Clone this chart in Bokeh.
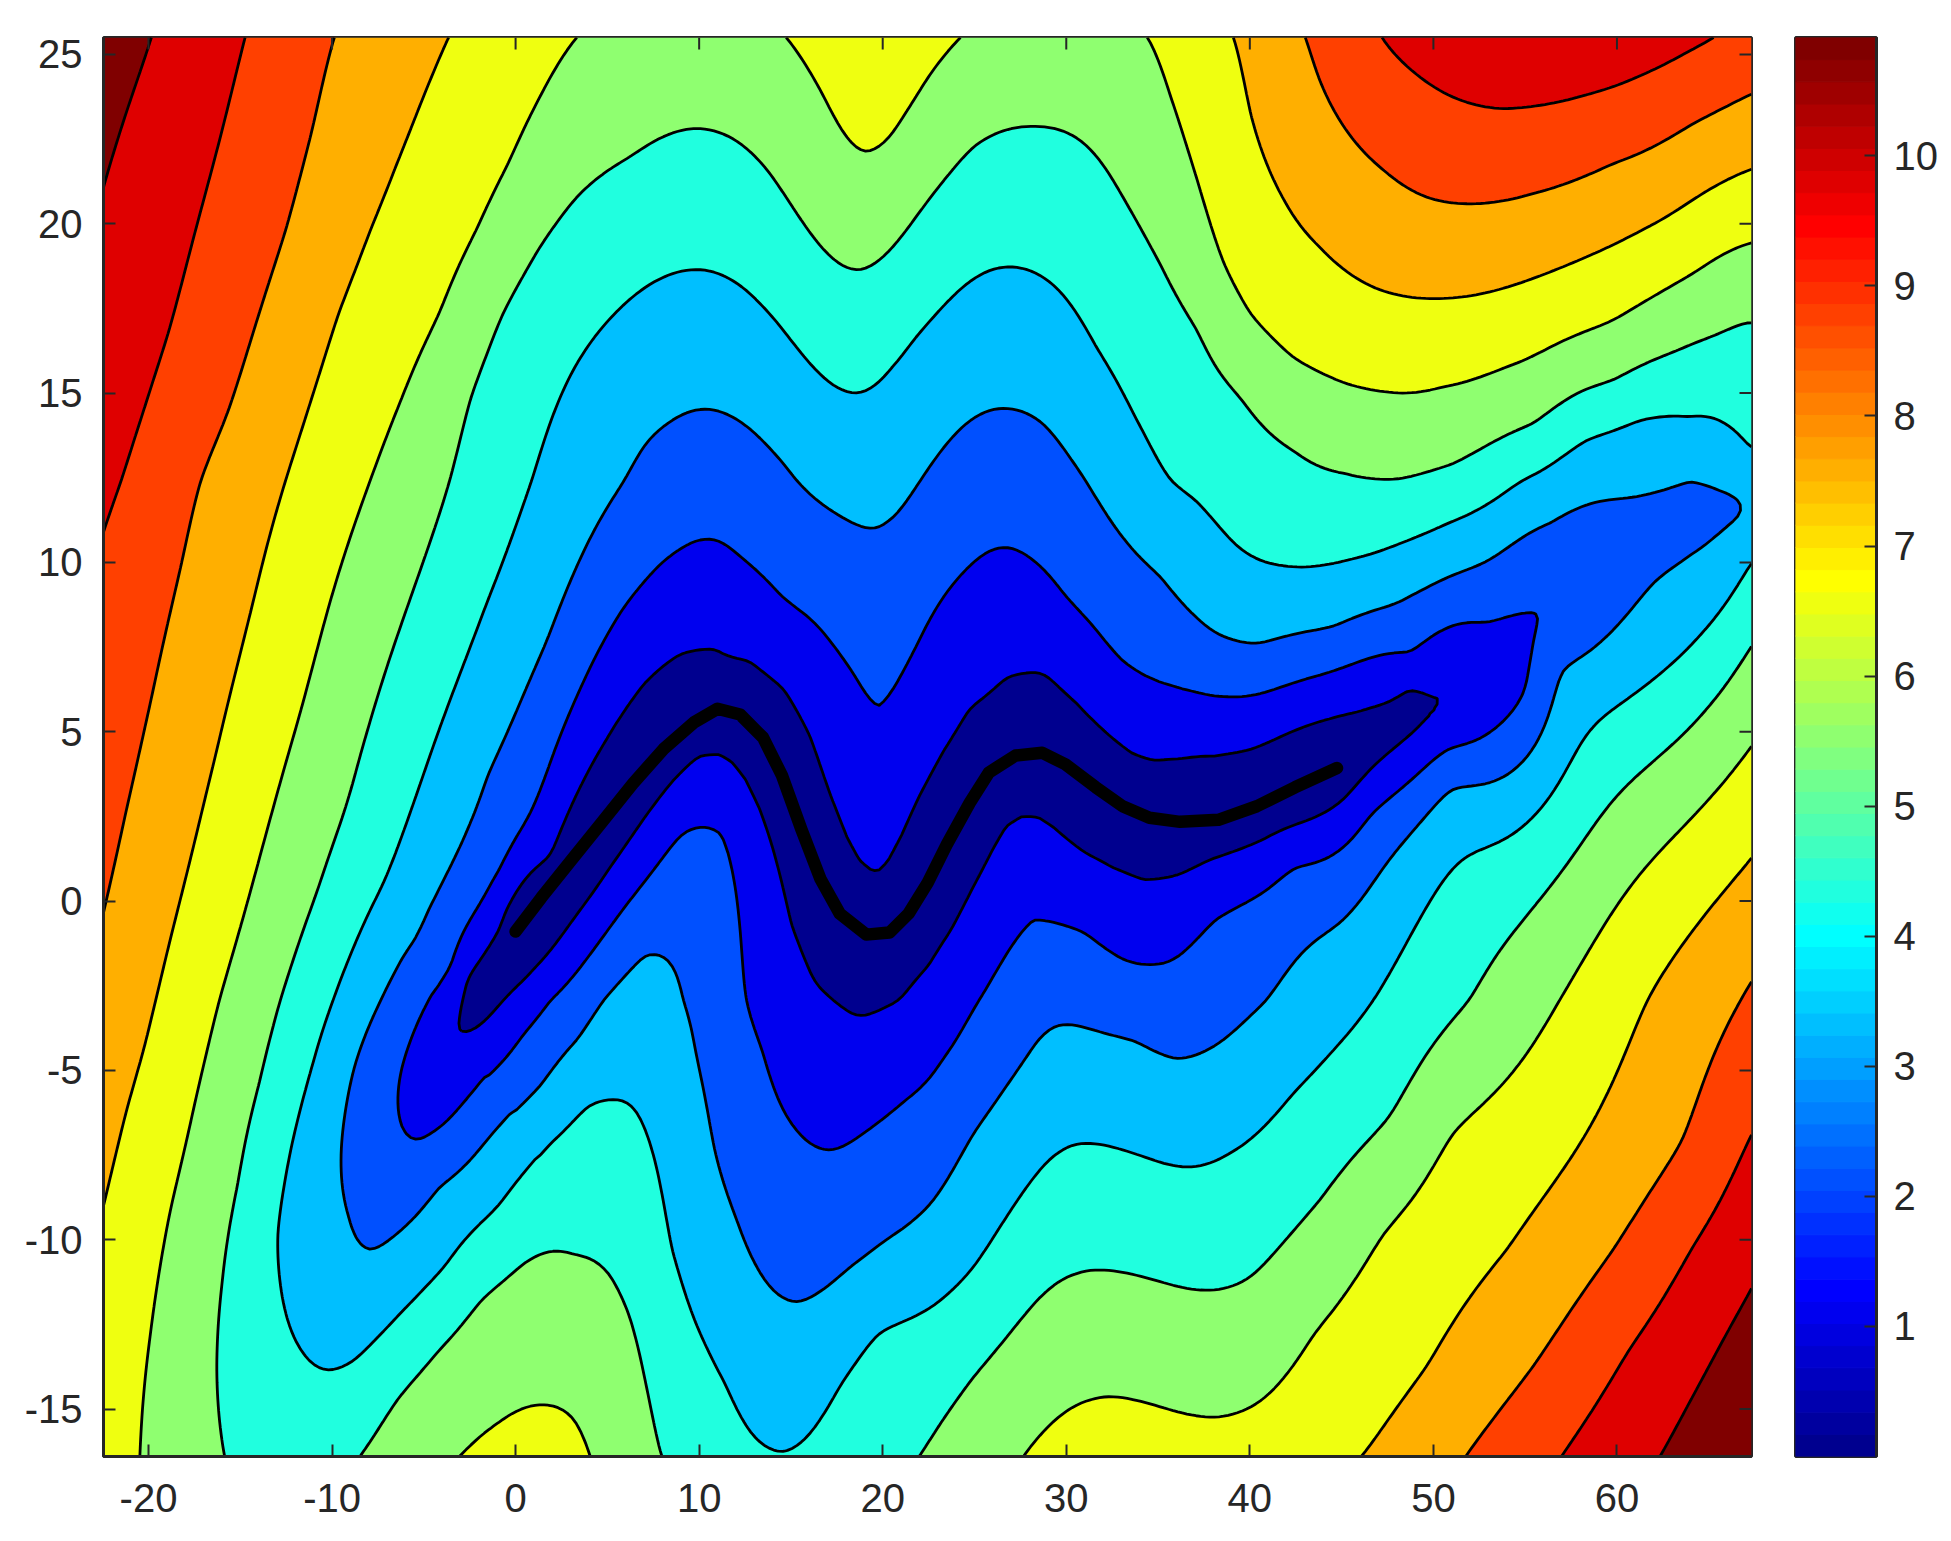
import numpy as np
from bokeh.plotting import figure
from bokeh.models import Range1d, FixedTicker
from bokeh.layouts import row
from bokeh.embed import file_html
from bokeh.resources import INLINE

# ---------------- values ----------------
x_ticks = [-20, -10, 0, 10, 20, 30, 40, 50, 60]
y_ticks = [-15, -10, -5, 0, 5, 10, 15, 20, 25]
cbar_ticks = [1, 2, 3, 4, 5, 6, 7, 8, 9, 10]
x_lim = (-22.45, 67.33)
y_lim = (-16.4, 25.5)
cbar_max = 10.91
levels = [0, 1, 2, 3, 4, 5, 6, 7, 8, 9, 10, 11]

# thick black path (valley floor)
curve_x = [0.0, 1.4, 3.05, 4.72, 6.39, 8.06, 9.73, 11.0, 12.23, 13.48, 14.52, 15.57, 16.61,
           17.66, 19.11, 20.37, 21.41, 22.45, 23.49, 24.74, 25.79, 27.24, 28.69, 29.95, 31.61,
           33.07, 34.53, 36.2, 38.29, 40.38, 42.46, 44.75]
curve_y = [-0.9, 0.1, 1.22, 2.34, 3.47, 4.49, 5.28, 5.68, 5.51, 4.83, 3.70, 2.12, 0.65,
           -0.37, -0.99, -0.93, -0.37, 0.54, 1.67, 2.9, 3.8, 4.3, 4.38, 4.04, 3.36,
           2.80, 2.46, 2.34, 2.40, 2.80, 3.36, 3.93]

# valley continuation beyond the path ends (tips of the closed contours)
start_ext_x = [0.0, -3.1, -5.32, -7.92, -10.22]
start_ext_y = [-0.9, -3.8, -7.06, -10.31, -13.85]
end_ext_x = [44.75, 51.2, 57.0, 67.0]
end_ext_y = [3.93, 6.0, 8.8, 11.6]

# points read on each contour line (level k)
lvl1_x = [11.4, 19.32, 28.49, 9.94, 19.74, 28.49, -3.1, 51.2, 48.7, 48.7, 46.63, 46.63, 38.29,
          34.12, 30.99, 5.14, 5.14, 1.89, -0.83, -2.65]
lvl1_y = [7.26, 0.93, 6.75, 4.27, -3.25, 2.46, -3.8, 6.0, 6.3, 4.9, 5.73, 3.93, 1.33,
          0.65, 1.44, 4.94, 0.99, 1.33, -0.81, -2.28]

lvl2_x = [10.98, 7.23, 14.5, 19.53, 27.03, 8.89, 17.19, 28.9, -5.32, 57.0, -6.18, -3.88, -1.86,
          0.45, 1.89, 12.57, 13.44, 14.59, 18.92, 21.22, 22.61, 25.24, 29.95, 33.07, 48.72,
          52.89, 54.97, 50.8, 46.63, 42.46, 38.29, 35.37, 33.07, 30.99, -0.93, -3.5, 1.64]
lvl2_y = [10.65, 9.57, 9.0, 5.85, 10.42, 1.89, -7.35, -0.59, -7.06, 8.8, -4.89, -6.57, -5.29,
          -3.91, -2.93, -2.93, -4.4, -6.17, -6.86, -5.88, -5.19, -2.93, 9.01, 7.09, 7.32,
          8.22, 6.19, 4.49, 2.57, 0.99, -0.48, -1.83, -1.72, -0.93, 0.88, -1.94, 3.71]

lvl3_x = [10.5, 5.93, 7.09, 8.53, 12.86, 14.59, 15.31, 19.01, 26.84, 28.72, 30.18, 31.05, 7.02,
          15.45, 30.47, -7.92, -7.34, -8.78, -9.5, -9.07, -6.47, -4.16, -1.57, 1.32, 3.34, 4.78,
          9.11, 9.97, 10.84, 11.99, 13.72, 17.19, 19.2, 21.22, 22.61, 24.95, 27.85, 33.66, 35.98,
          38.3, 40.91, 4.62, 1.68, -1.52, -4.75, 35.16, 38.29, 40.37, 44.54, 48.72, 52.89, 56.39,
          45.0, 51.0, 57.0, 62.0, 60.5, 64.0, 65.0, 67.0]
lvl3_y = [14.52, 12.42, 13.5, 14.19, 13.9, 12.92, 12.42, 11.04, 14.54, 14.1, 13.11, 12.42, -1.61,
          -11.83, -3.66, -10.31, -2.93, -4.89, -7.35, -9.32, -9.82, -8.44, -7.06, -5.48, -4.11, -2.93,
          -2.93, -4.89, -7.35, -9.32, -11.29, -11.29, -10.41, -9.62, -8.93, -6.86, -4.6, -4.11, -4.65,
          -4.2, -2.93, 11.28, 7.66, 3.71, -0.25, 9.57, 7.88, 7.6, 8.11, 9.01, 10.03, 11.16,
          -0.6, 3.3, 6.8, 9.4, 11.9, 12.4, 10.6, 11.6]

lvl4_x = [0.88, 3.34, 5.07, 7.38, 10.12, 12.57, 14.3, 15.74, 17.19, 18.63, 20.36, 21.8, 22.61,
          27.42, 29.6, 31.63, 33.66, 35.69, 54.84, 58.32, 61.23, 63.84, 65.87, 67.18,
          37.04, 39.33, 42.88, 46.63, 50.8, 53.3, -1.58, -4.68, -7.39,
          -9.94, -11.09, -12.25, -12.96, -12.68, -11.67, -10.22, -8.78, -6.47, -3.88, -0.99, 1.89,
          3.91, 5.07, 6.51, 7.67, 8.53, 9.68, 11.41, 12.86, 14.59, 16.03, 17.76, 19.78, 22.61,
          24.95, 27.85, 31.34, 34.24, 36.85, 38.88, 42.36, 46.72, 67.3]
lvl4_y = [12.42, 15.87, 17.15, 18.23, 18.64, 18.03, 17.05, 16.06, 15.28, 15.0, 15.67, 16.65, 17.15,
          18.7, 18.03, 16.36, 14.39, 12.42, 12.42, 13.6, 14.19, 14.29, 14.1, 13.41,
          11.84, 10.48, 9.86, 10.25, 11.16, 11.84, 8.79, 4.27, 0.32,
          -2.93, -4.89, -7.35, -9.82, -11.78, -13.26, -13.85, -13.55, -12.28, -10.8, -9.03, -7.16,
          -6.07, -5.88, -6.17, -7.85, -10.31, -12.28, -14.24, -15.72, -16.26, -15.72, -14.24, -12.77, -12.0,
          -10.8, -8.44, -7.16, -7.55, -7.85, -7.45, -5.68, -2.93, 10.0]

lvl5_x = [-3.59, -2.43, -0.7, 1.32, 3.34, 6.22, 9.68, 11.99, 13.72, 15.45, 17.19, 18.77, 20.36, 21.8, 22.61,
          24.95, 28.29, 30.76, 33.08, 35.11, 37.14, 39.46, 42.36, 45.26, 48.17, 51.07, 55.42, 59.77, 64.13, 67.18,
          -5.83, -8.48, -10.79, -12.82, -13.97, -15.13, -15.99, -16.28, -15.85,
          -8.49, -6.47, -4.16, -1.86, 0.45, 3.19, 5.07, 6.22, 7.09, 7.95,
          22.05, 24.95, 28.43, 31.92, 34.82, 37.72, 40.04, 43.81, 47.59, 51.94, 67.3]
lvl5_y = [12.42, 14.88, 17.34, 19.31, 20.79, 21.97, 22.81, 22.46, 21.58, 20.2, 19.02, 18.64, 19.21, 20.2, 20.79,
          22.27, 22.87, 22.46, 20.79, 18.82, 16.85, 14.88, 13.31, 12.62, 12.47, 12.91, 14.1, 15.38, 16.46, 17.1,
          8.79, 4.27, 0.32, -2.93, -5.39, -8.34, -11.29, -13.75, -16.41,
          -16.41, -14.74, -13.26, -11.78, -10.7, -10.45, -11.0, -12.28, -14.24, -16.41,
          -16.36, -14.05, -11.78, -10.9, -11.19, -11.49, -11.09, -8.83, -6.37, -2.93, 7.5]

lvl6_x = [3.19, 1.32, -0.41, -2.15, -4.17, -6.18, -7.92,
          14.88, 16.61, 18.05, 19.06, 20.36, 21.8, 22.61, 24.08,
          34.53, 35.69, 37.14, 38.59, 40.04, 42.36, 45.26, 47.59, 50.49, 53.97, 59.77, 64.13, 67.18,
          -10.13, -12.42, -14.43, -16.14, -17.44, -18.88, -19.89, -20.47,
          -3.05, -0.97, 1.47, 3.2, 4.07,
          27.71, 29.6, 32.07, 35.11, 38.3, 40.62, 43.52, 47.3, 51.07, 56.87, 67.3]
lvl6_y = [25.41, 23.74, 21.77, 19.8, 17.34, 14.88, 12.42,
          25.41, 23.94, 22.56, 22.12, 22.56, 23.74, 24.43, 25.41,
          25.41, 23.74, 21.28, 18.82, 17.34, 16.06, 15.28, 15.03, 15.18, 15.77, 17.15, 18.53, 19.41,
          8.79, 4.27, 0.32, -2.93, -5.88, -9.32, -12.77, -16.41,
          -16.41, -15.42, -14.88, -15.32, -16.41,
          -16.36, -15.23, -14.64, -14.93, -15.23, -14.74, -12.77, -9.82, -6.86, -2.93, 4.55]

lvl7_x = [-3.73, -5.03, -6.47, -7.92, -9.65, -11.09, -12.53, -14.32, -16.36, -18.14, -19.42, -20.27,
          -21.19, -22.45, 39.17, 40.04, 41.78, 43.81, 46.72, 49.91, 53.39, 58.32, 62.68, 67.18,
          46.14, 49.62, 53.97, 58.32, 61.66, 67.3]
lvl7_y = [25.41, 23.74, 21.77, 19.8, 17.34, 14.88, 12.42, 8.79, 4.27, 0.32, -2.51, -4.4,
          -6.17, -9.0, 25.41, 23.25, 20.79, 19.31, 18.13, 17.79, 18.03, 19.02, 20.2, 21.58,
          -16.36, -13.75, -10.31, -6.86, -2.93, 1.25]

lvl8_x = [-9.93, -11.09, -12.53, -14.26, -15.71, -17.15, -18.22, -19.85, -21.25, -22.36,
          43.09, 43.81, 45.26, 47.3, 49.62, 51.94, 55.42, 59.77, 64.13, 67.18,
          51.8, 55.42, 59.77, 63.55, 66.74, 67.3]
lvl8_y = [25.41, 22.76, 19.8, 16.85, 14.39, 12.42, 9.92, 5.97, 2.58, -0.13,
          25.41, 24.23, 22.76, 21.58, 20.79, 20.59, 20.89, 21.77, 22.95, 23.79,
          -16.36, -13.75, -10.31, -7.06, -2.93, -2.4]

lvl9_x = [-14.78, -15.99, -17.44, -18.88, -20.32, -21.48, -22.45, 47.3, 49.04, 51.07, 53.68, 56.87,
          59.77, 62.68, 65.0, 57.02, 60.65, 64.13, 67.18]
lvl9_y = [25.41, 22.76, 19.8, 16.85, 14.39, 12.42, 10.9, 25.41, 24.43, 23.74, 23.4, 23.6,
          24.04, 24.73, 25.41, -16.36, -13.26, -10.21, -7.06]

lvl10_x = [-19.89, -21.2, -22.45, 62.39, 65.0, 67.18]
lvl10_y = [25.41, 23.3, 21.08, -16.36, -13.75, -11.59]

contour_points = [(1, lvl1_x, lvl1_y), (2, lvl2_x, lvl2_y), (3, lvl3_x, lvl3_y),
                  (4, lvl4_x, lvl4_y), (5, lvl5_x, lvl5_y), (6, lvl6_x, lvl6_y),
                  (7, lvl7_x, lvl7_y), (8, lvl8_x, lvl8_y), (9, lvl9_x, lvl9_y),
                  (10, lvl10_x, lvl10_y)]


# ---------------- colormap (Octave jet, 64 entries) ----------------
def jet64():
    out = []
    for i in range(64):
        if i < 24:
            r = 0.0
        elif i < 40:
            r = (i - 23) / 16
        elif i < 56:
            r = 1.0
        else:
            r = 1 - (i - 55) / 16
        if i < 8:
            g = 0.0
        elif i < 24:
            g = (i - 7) / 16
        elif i < 40:
            g = 1.0
        elif i < 56:
            g = 1 - (i - 39) / 16
        else:
            g = 0.0
        if i < 8:
            b = (i + 9) / 16
        elif i < 24:
            b = 1.0
        elif i < 40:
            b = 1 - (i - 23) / 16
        else:
            b = 0.0
        out.append("#%02x%02x%02x" % (round(r * 255), round(g * 255), round(b * 255)))
    return out


JET = jet64()
band_colors = [JET[min(int(k * 6.4 + 1e-9), 63)] for k in levels[:-1]]


# ---------------- field reconstruction ----------------
def dist_and_s(X, Y, ex, ey):
    X = np.asarray(X, dtype=float)
    Y = np.asarray(Y, dtype=float)
    ex = np.asarray(ex, dtype=float)
    ey = np.asarray(ey, dtype=float)
    ax, ay = ex[:-1], ey[:-1]
    dx, dy = np.diff(ex), np.diff(ey)
    L = np.sqrt(dx * dx + dy * dy)
    S0 = np.concatenate([[0.0], np.cumsum(L)[:-1]])
    Xf = X.reshape(-1, 1)
    Yf = Y.reshape(-1, 1)
    t = np.clip(((Xf - ax) * dx + (Yf - ay) * dy) / (L * L), 0.0, 1.0)
    d = np.sqrt((Xf - ax - t * dx) ** 2 + (Yf - ay - t * dy) ** 2)
    k = d.argmin(axis=1)
    rows = np.arange(d.shape[0])
    dmin = d[rows, k]
    s = S0[k] + t[rows, k] * L[k]
    return dmin.reshape(X.shape), s.reshape(X.shape)


def base(d):
    return np.sqrt(0.0528 * d * d + 0.559 * d)


def base_field(X, Y):
    d, _ = dist_and_s(X, Y, curve_x, curve_y)
    v = base(d)
    for ex, ey, rate in [(start_ext_x, start_ext_y, 4.1), (end_ext_x, end_ext_y, 7.0)]:
        de, s = dist_and_s(X, Y, ex, ey)
        ve = np.sqrt(base(de) ** 2 + (s / rate) ** 2)
        v = np.minimum(v, ve)
    return v, d


def blur1d(Arr, sig, axis):
    r = int(np.ceil(3 * sig))
    if r < 1:
        return Arr
    k = np.exp(-0.5 * (np.arange(-r, r + 1) / sig) ** 2)
    k /= k.sum()
    B = np.moveaxis(Arr, axis, -1)
    left = 2 * B[..., :1] - B[..., r:0:-1]
    right = 2 * B[..., -1:] - B[..., -2:-r - 2:-1]
    P = np.concatenate([left, B, right], axis=-1)
    n = B.shape[-1]
    out = np.zeros_like(B)
    for i, kv in enumerate(k):
        out += kv * P[..., i:i + n]
    return np.moveaxis(out, -1, axis)


gx = np.linspace(x_lim[0], x_lim[1], 360)
gy = np.linspace(y_lim[0], y_lim[1], 250)
cell_x = gx[1] - gx[0]
cell_y = gy[1] - gy[0]
GX, GY = np.meshgrid(gx, gy)
B0, DG = base_field(GX, GY)

# smooth the creases of the distance field, more strongly far from the path
sigmas = [0.0, 1.0, 2.0, 3.0]
blurred = [B0] + [blur1d(blur1d(B0, s / cell_x, 1), s / cell_y, 0) for s in sigmas[1:]]
sig_t = np.clip(0.16 * (DG - 1.5), 0.0, 3.0)
BS = np.zeros_like(B0)
for i in range(len(sigmas) - 1):
    lo, hi = sigmas[i], sigmas[i + 1]
    m = (sig_t >= lo) & (sig_t <= hi)
    f = (sig_t - lo) / (hi - lo)
    BS = np.where(m, (1 - f) * blurred[i] + f * blurred[i + 1], BS)


def bilinear(G, x, y):
    fx = (np.asarray(x) - gx[0]) / cell_x
    fy = (np.asarray(y) - gy[0]) / cell_y
    ix = np.clip(np.floor(fx).astype(int), 0, len(gx) - 2)
    iy = np.clip(np.floor(fy).astype(int), 0, len(gy) - 2)
    tx = np.clip(fx - ix, 0.0, 1.0)
    ty = np.clip(fy - iy, 0.0, 1.0)
    return (G[iy, ix] * (1 - tx) * (1 - ty) + G[iy, ix + 1] * tx * (1 - ty)
            + G[iy + 1, ix] * (1 - tx) * ty + G[iy + 1, ix + 1] * tx * ty)


# thin-plate-spline correction so the field passes through the read contour points
cx = np.array(curve_x, dtype=float)
cy = np.array(curve_y, dtype=float)
px = np.concatenate([cx] + [np.array(xs, dtype=float) for _, xs, _ in contour_points])
py = np.concatenate([cy] + [np.array(ys, dtype=float) for _, _, ys in contour_points])
pv = np.concatenate([np.zeros(len(cx))] +
                    [np.full(len(xs), float(lev)) for lev, xs, _ in contour_points])
res = pv - bilinear(BS, px, py)

N = len(px)
lam = 0.3
r2 = (px[:, None] - px[None, :]) ** 2 + (py[:, None] - py[None, :]) ** 2
K = 0.5 * r2 * np.log(np.where(r2 > 0, r2, 1.0))
K[np.diag_indices(N)] += lam
Q = np.column_stack([np.ones(N), px, py])
A = np.zeros((N + 3, N + 3))
A[:N, :N] = K
A[:N, N:] = Q
A[N:, :N] = Q.T
sol = np.linalg.solve(A, np.concatenate([res, np.zeros(3)]))
w, a = sol[:N], sol[N:]

xf, yf = GX.ravel(), GY.ravel()
R = np.empty(xf.size)
step = 6000
for s in range(0, xf.size, step):
    ddx = xf[s:s + step, None] - px[None, :]
    ddy = yf[s:s + step, None] - py[None, :]
    rr = ddx * ddx + ddy * ddy
    U = 0.5 * rr * np.log(np.where(rr > 0, rr, 1.0))
    R[s:s + step] = U @ w + a[0] + a[1] * xf[s:s + step] + a[2] * yf[s:s + step]
Z = np.clip(BS + R.reshape(GX.shape), 0.001, 10.95)

# ---------------- main plot ----------------
AX_COL = "#262626"
FONT = "Liberation Sans"

p = figure(x_range=Range1d(*x_lim), y_range=Range1d(*y_lim),
           frame_width=1648, frame_height=1419,
           min_border_left=103, min_border_right=20, min_border_top=37, min_border_bottom=80,
           output_backend="svg", toolbar_location=None)
p.xgrid.visible = False
p.ygrid.visible = False
p.outline_line_color = AX_COL
p.outline_line_width = 3

p.contour(x=gx, y=gy, z=Z, levels=levels, fill_color=band_colors,
          line_color="black", line_width=2.8)
p.line(curve_x, curve_y, line_width=12.5, line_color="black", line_cap="round", line_join="round")

# mirrored inward tick marks on the top and right edges of the box
p.ray(x=x_ticks, y=[y_lim[1]] * len(x_ticks), length=12, length_units="screen",
      angle=-np.pi / 2, line_color=AX_COL, line_width=2)
p.ray(x=[x_lim[1]] * len(y_ticks), y=y_ticks, length=12, length_units="screen",
      angle=np.pi, line_color=AX_COL, line_width=2)


def style_axis(ax, ticks, font_size, standoff):
    ax.ticker = FixedTicker(ticks=ticks)
    ax.major_tick_in = 12
    ax.major_tick_out = 0
    ax.minor_tick_in = 0
    ax.minor_tick_out = 0
    ax.major_tick_line_color = AX_COL
    ax.major_tick_line_width = 2
    ax.axis_line_color = AX_COL
    ax.axis_line_width = 3
    ax.major_label_text_font = FONT
    ax.major_label_text_font_size = font_size
    ax.major_label_text_color = AX_COL
    ax.major_label_standoff = standoff
    ax.major_label_overrides = {t: str(t) for t in ticks}


style_axis(p.xaxis[0], x_ticks, "40px", 27)
style_axis(p.yaxis[0], y_ticks, "40px", 21)

# ---------------- colour bar ----------------
cb = figure(x_range=Range1d(0, 1), y_range=Range1d(0, cbar_max),
            frame_width=81, frame_height=1419,
            min_border_left=24, min_border_right=68, min_border_top=37, min_border_bottom=80,
            y_axis_location="right", output_backend="svg", toolbar_location=None)
nc = len(JET)
cb_bottom = [i * cbar_max / nc for i in range(nc)]
cb_top = [(i + 1) * cbar_max / nc for i in range(nc)]
cb.quad(left=0, right=1, bottom=cb_bottom, top=cb_top, fill_color=JET, line_color=JET, line_width=1)
cb.xaxis.visible = False
cb.xgrid.visible = False
cb.ygrid.visible = False
cb.outline_line_color = AX_COL
cb.outline_line_width = 3
style_axis(cb.yaxis[0], cbar_ticks, "40px", 17)

layout = row(p, cb)
open("out.html", "w").write(file_html(layout, INLINE, title="contour"))
